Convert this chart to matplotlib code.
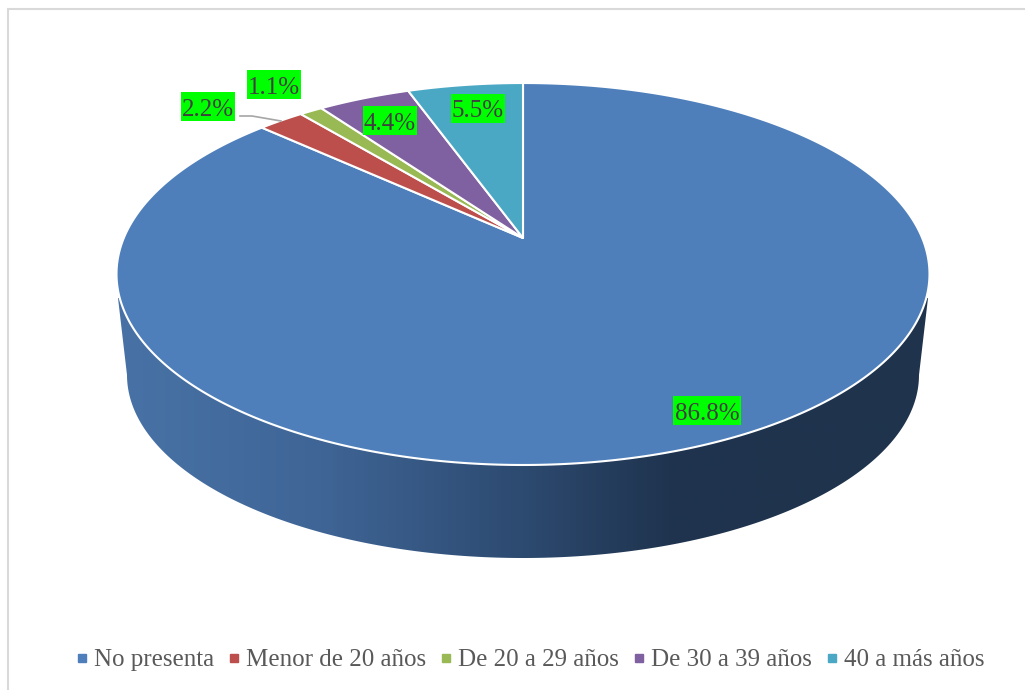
import numpy as np
import matplotlib
matplotlib.use('Agg')
import matplotlib.pyplot as plt
from matplotlib.colors import LinearSegmentedColormap
from matplotlib.lines import Line2D
from matplotlib.patches import Polygon, Rectangle

# Datos del grafico
categorias = ['No presenta', 'Menor de 20 años', 'De 20 a 29 años', 'De 30 a 39 años', '40 a más años']
valores = [86.8, 2.2, 1.1, 4.4, 5.5]
colores = ['#4E7FBB', '#BC4F4B', '#98B954', '#7F60A0', '#4AA8C4']

plt.rcParams['font.family'] = ['Liberation Serif', 'DejaVu Serif']

# Ejes en pixeles, para que coincidan con la imagen
fig = plt.figure(figsize=(10.25, 6.9), dpi=100)
ax = fig.add_axes([0, 0, 1, 1])
ax.axis('off')

# Marco gris (arriba e izquierda)
ax.plot([8, 8, 1025], [690, 9, 9], color='#D9D9D9', lw=1.5, solid_joinstyle='miter')

# Perspectiva de la tapa del pastel
cx, cy = 523, 238
k = 0.1885
A, B = 399.2, 184.2


def tapa(theta):
    w = 1 + k * np.cos(theta)
    return cx + A * np.sin(theta) / w, cy - B * np.cos(theta) / w


# Pared lateral con degradado
t = np.linspace(-np.pi / 2, np.pi / 2, 200)
pared_x = 523 + 396 * np.sin(t)
pared_y = 375 + 183 * np.cos(t)
pared = np.column_stack([np.r_[118, pared_x, 928], np.r_[298, pared_y, 298]])
parche = Polygon(pared, closed=True, facecolor='none', edgecolor='none')
ax.add_patch(parche)
cmap = LinearSegmentedColormap.from_list('pared', [
    (0.0, '#4872A6'), (0.25, '#3F6596'), (0.5, '#2D4A70'),
    (0.68, '#1F344F'), (1.0, '#1F334C')])
img = ax.imshow(np.linspace(0, 1, 512)[None, :], cmap=cmap, aspect='auto',
                extent=[118, 928, 560, 290], zorder=1)
img.set_clip_path(parche)

# Porciones: sentido horario desde arriba
inicio = 0.0
for valor, color in zip(valores, colores):
    fin = inicio + valor
    ang = np.radians(np.linspace(inicio, fin, max(int(valor * 8), 8)) * 3.6)
    x, y = tapa(ang)
    ax.fill(np.r_[cx, x], np.r_[cy, y], facecolor=color, edgecolor='white',
            lw=1.5, joinstyle='round', zorder=2)
    inicio = fin

# Linea guia de la etiqueta 2.2%
ax.plot([240, 252, 281], [116, 116, 121], color='#A6A6A6', lw=1.2, zorder=3)

# Etiquetas con fondo verde
etiquetas_x = [707, 208, 274, 390, 478]
etiquetas_y = [410.5, 106.5, 84.5, 120.5, 108]
for valor, ex, ey in zip(valores, etiquetas_x, etiquetas_y):
    texto = f'{valor:.1f}%'
    ancho = 68 if len(texto) > 4 else 54
    ax.add_patch(Rectangle((ex - ancho / 2, ey - 14.5), ancho, 29, facecolor='#00FF00',
                           edgecolor='none', zorder=4))
    ax.text(ex, ey + 3, texto, fontsize=18, color='#404040', ha='center', va='center', zorder=5)

# Leyenda inferior
marcas = [Line2D([], [], linestyle='none', marker='s', markersize=5.5, color=c) for c in colores]
ax.legend(marcas, categorias, ncol=5, loc='center', bbox_to_anchor=(530 / 1025, 1 - 660 / 690),
          frameon=False, fontsize=18, labelcolor='#595959', handlelength=0.5,
          handletextpad=0.25, columnspacing=0.53, borderpad=0)

ax.set_xlim(0, 1025)
ax.set_ylim(690, 0)

fig.savefig('out.png', dpi=100)
